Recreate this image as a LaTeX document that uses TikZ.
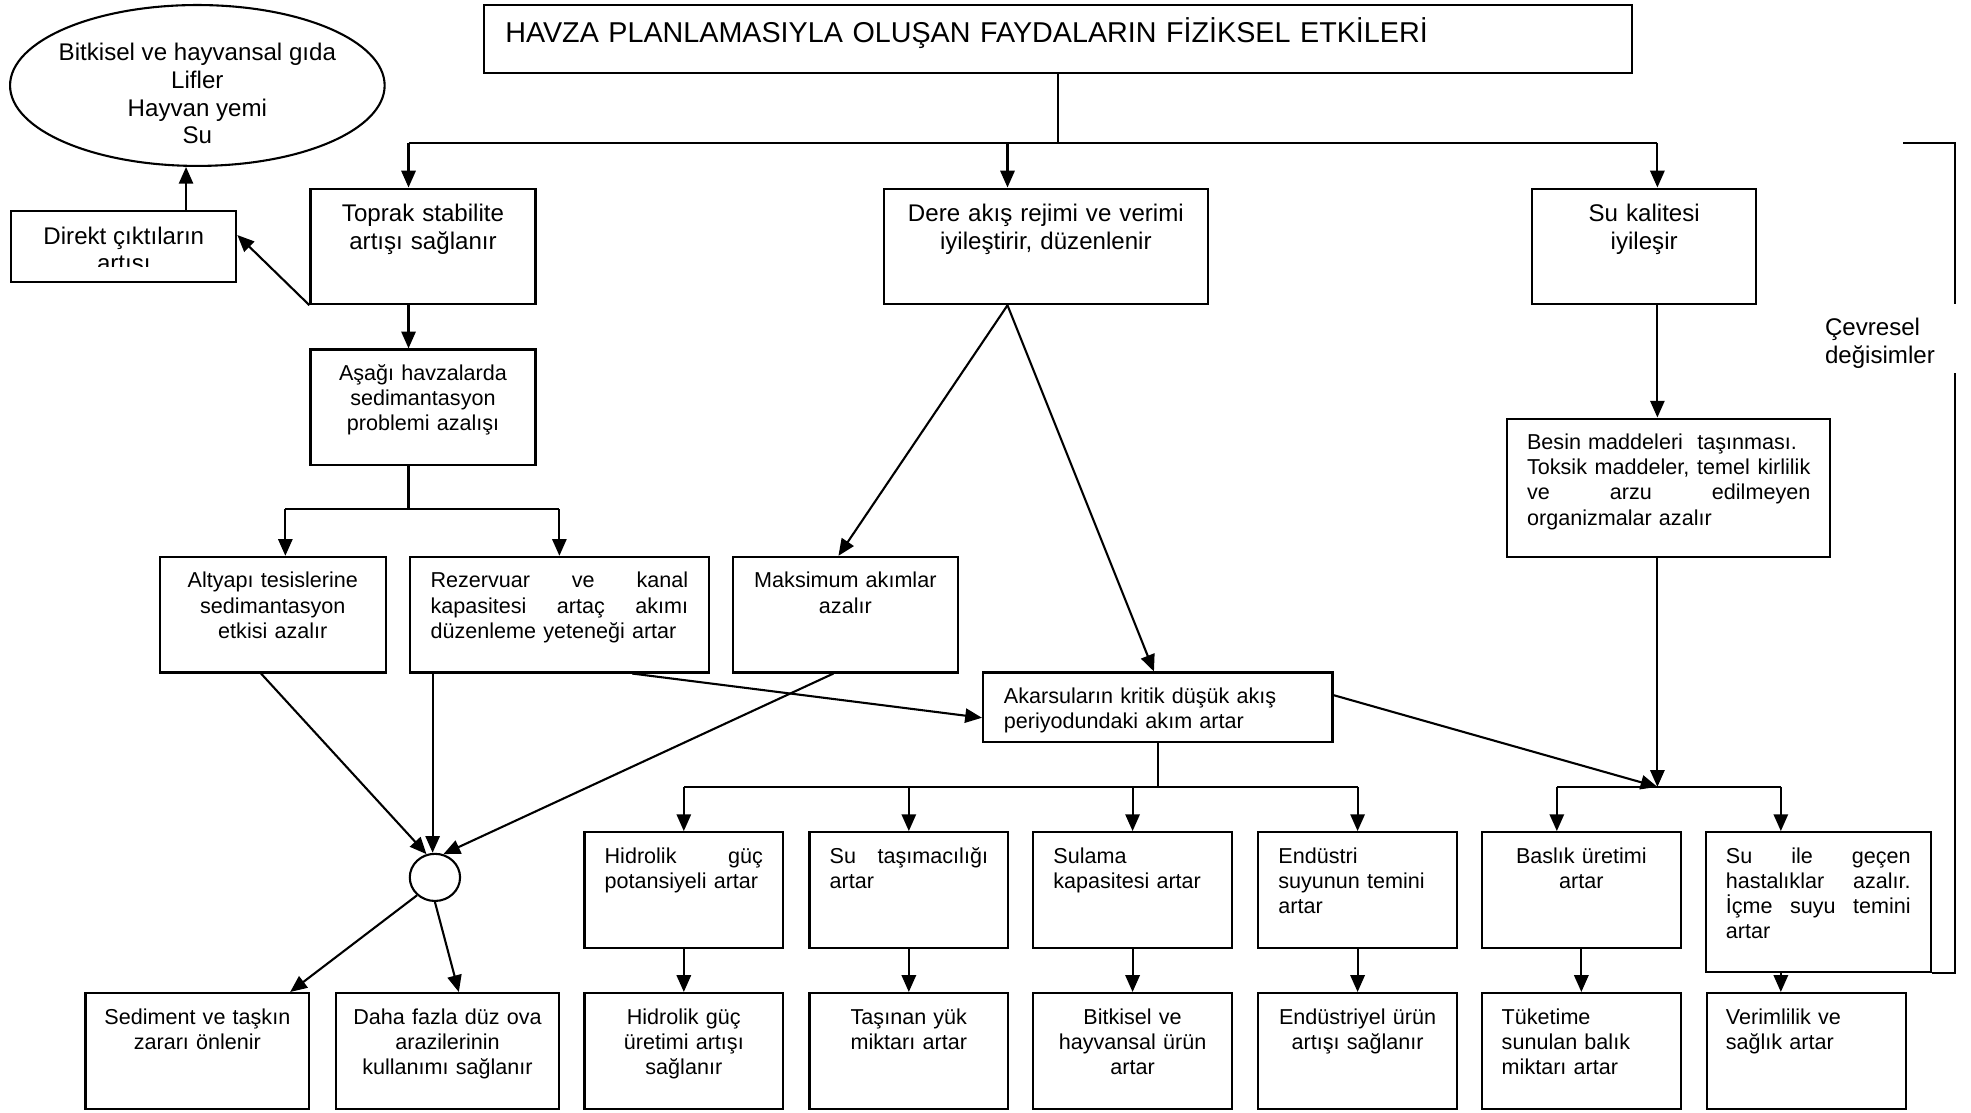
\documentclass[tikz,border=0pt]{standalone}
\usepackage{fontspec}
\setmainfont{Liberation Sans}
\usetikzlibrary{arrows.meta, shapes.geometric}

\tikzset{
    box/.style={draw, inner xsep=7pt, inner ysep=0pt, font=\fontsize{10.3}{12}\selectfont},
    big/.style={font=\fontsize{11.5}{13.2}\selectfont},
    tall/.style={text height=14.8pt, text depth=40.4pt},
    tallbig/.style={text height=15.8pt, text depth=39.4pt},
}

\begin{document}
\begin{tikzpicture}[>={Triangle[length=8pt,width=6.8pt]}, line width=1pt, x=.6pt, y=-.6pt]
    \useasboundingbox (0,0) rectangle (1568,885);

    % title and first level
    \node (title) [box, inner xsep=10.2pt, text width=527.4pt, text height=18pt, text depth=14.4pt, align=left, font=\fontsize{13.7}{16}\selectfont] at (841.5,31) {HAVZA PLANLAMASIYLA OLUŞAN FAYDALARIN FİZİKSEL ETKİLERİ};
    \node (urun) [draw, ellipse, minimum width=178.8pt, minimum height=76.8pt] at (157,68) {};
    \node (urun-t) [big, align=center, inner sep=0pt] at ([yshift=-3.9pt]urun.center) {Bitkisel ve hayvansal gıda\\Lifler\\Hayvan yemi\\Su};
    \node (direkt) [draw, minimum width=107.4pt, minimum height=33.6pt] at (98.5,196) {};
    \begin{scope}
        \clip (direkt.north west) rectangle ([yshift=7.6pt]direkt.south east);
        \node (direkt-t) [big, align=center, anchor=north, inner sep=0pt] at ([yshift=-7.4pt]direkt.north) {Direkt çıktıların\\artısı};
    \end{scope}
    \node (toprak) [box, big, tallbig, text width=93.4pt, align=center] at (336.5,196) {Toprak stabilite\\artışı sağlanır};
    \node (dere) [box, big, tallbig, text width=140.8pt, align=center] at (832,196) {Dere akış rejimi ve verimi\\iyileştirir, düzenlenir};
    \node (sukalite) [box, big, tallbig, text width=92.8pt, align=center] at (1308,196) {Su kalitesi\\iyileşir};
    \node (cevre) [big, align=left, anchor=west, inner sep=0pt] at (1451,273) {Çevresel\\değisimler};

    % second level
    \node (asagi) [box, tall, text width=93.4pt, align=center] at (336.5,324) {Aşağı havzalarda\\sedimantasyon\\problemi azalışı};
    \node (altyapi) [box, tall, text width=94pt, align=center] at (217,489) {Altyapı tesislerine\\sedimantasyon\\etkisi azalır};
    \node (rezervuar) [box, tall, inner xsep=9.9pt, text width=123pt, align=left] at (445,489) {Rezervuar \hfill ve \hfill kanal\\kapasitesi \hfill artaç \hfill akımı\\düzenleme yeteneği artar};
    \node (maksimum) [box, tall, text width=93.4pt, align=center] at (672.5,489) {Maksimum akımlar\\azalır};
    \node (besin) [box, tall, text depth=51.2pt, inner xsep=9.5pt, text width=135.2pt, align=left] at (1327.5,388) {Besin maddeleri\ \ taşınması.\\Toksik \hfill maddeler, \hfill temel \hfill kirlilik\\ve \hfill arzu \hfill edilmeyen\\organizmalar azalır};
    \node (akarsu) [box, tall, text depth=18.2pt, inner xsep=10pt, text width=146.8pt, align=left] at (921,562.5) {Akarsuların kritik düşük akış\\periyodundaki akım artar};
    \node (birlesim) [draw, ellipse, minimum width=24pt, minimum height=22.5pt, inner sep=0pt] at (346,698) {};

    % third level
    \node (hidrolik) [box, tall, inner xsep=9.6pt, text width=75.6pt, align=left] at (544,708) {Hidrolik \hfill güç\\potansiyeli artar};
    \node (tasima) [box, tall, inner xsep=9.6pt, text width=75.6pt, align=left] at (723,708) {Su \hfill taşımacılığı\\artar};
    \node (sulama) [box, tall, inner xsep=9.6pt, text width=75.6pt, align=left] at (901,708) {Sulama\\kapasitesi artar};
    \node (endustri) [box, tall, inner xsep=9.6pt, text width=75.6pt, align=left] at (1080,708) {Endüstri\\suyunun temini\\artar};
    \node (balik) [box, tall, text width=80.8pt, align=center] at (1258,708) {Baslık üretimi\\artar};
    \node (hastalik) [box, tall, text depth=51.8pt, inner xsep=9.6pt, text width=88.2pt, align=left] at (1446.5,717.5) {Su \hfill ile \hfill geçen\\hastalıklar \hfill azalır.\\İçme \hfill suyu \hfill temini\\artar};

    % bottom row
    \node (sediment) [box, tall, text width=92.8pt, align=center] at (157,836) {Sediment ve taşkın\\zararı önlenir};
    \node (daha) [box, tall, text width=92.8pt, align=center] at (356,836) {Daha fazla düz ova\\arazilerinin\\kullanımı sağlanır};
    \node (guc) [box, tall, text width=80.8pt, align=center] at (544,836) {Hidrolik güç\\üretimi artışı\\sağlanır};
    \node (yuk) [box, tall, text width=80.8pt, align=center] at (723,836) {Taşınan yük\\miktarı artar};
    \node (bitkisel) [box, tall, text width=80.8pt, align=center] at (901,836) {Bitkisel ve\\hayvansal ürün\\artar};
    \node (enduurun) [box, tall, text width=80.8pt, align=center] at (1080,836) {Endüstriyel ürün\\artışı sağlanır};
    \node (tuketim) [box, tall, inner xsep=9.4pt, text width=76pt, align=left] at (1258,836) {Tüketime\\sunulan balık\\miktarı artar};
    \node (verim) [box, tall, inner xsep=9pt, text width=76.8pt, align=left] at (1437,836) {Verimlilik ve\\sağlık artar};

    % connectors
    \coordinate (bus1) at (842,113.5);
    \coordinate (bus1-l) at (325,113.5);
    \coordinate (bus1-m) at (801.5,113.5);
    \coordinate (bus1-r) at (1318.5,113.5);
    \draw (title.south -| bus1) -- (bus1);
    \draw (bus1-l) -- (bus1-r);
    \draw[->] (bus1-l) -- (bus1-l |- toprak.north);
    \draw[->] (bus1-m) -- (bus1-m |- dere.north);
    \draw[->] (bus1-r) -- (bus1-r |- sukalite.north);

    \coordinate (direkt-up) at ([xshift=29.7pt]direkt.north);
    \draw[->] (toprak.south west) -- ([yshift=5.4pt]direkt.east);
    \draw[->] (direkt-up) -- (direkt-up |- urun.south);

    \coordinate (bus2) at (325,405);
    \coordinate (bus2-l) at (227,405);
    \coordinate (bus2-r) at (445,405);
    \draw[->] (bus1-l |- toprak.south) -- (bus1-l |- asagi.north);
    \draw (bus1-l |- asagi.south) -- (bus2);
    \draw (bus2-l) -- (bus2-r);
    \draw[->] (bus2-l) -- (bus2-l |- altyapi.north);
    \draw[->] (bus2-r) -- (rezervuar);

    \draw[->] (bus1-m |- dere.south) -- ([xshift=-3.3pt]maksimum.north);
    \draw[->] (bus1-m |- dere.south) -- ([xshift=-1.8pt]akarsu.north);
    \draw[->] ([xshift=34.8pt]rezervuar.south) -- ([yshift=-5.1pt]akarsu.west);

    \coordinate (rez-v) at ([xshift=11.4pt]rezervuar.south west);
    \draw[->] ([xshift=-5.6pt]altyapi.south) -- (birlesim.110);
    \draw[->] (rez-v) -- (rez-v |- birlesim.north);
    \draw[->] ([xshift=-5.7pt]maksimum.south) -- (birlesim.70);
    \draw[->] (birlesim.225) -- ([xshift=-9.6pt]sediment.north east);
    \draw[->] (birlesim.south) -- ([xshift=5.4pt]daha.north);

    \coordinate (bus3) at (921,626);
    \draw (akarsu) -- (bus3);
    \draw (hidrolik |- bus3) -- (endustri |- bus3);
    \draw[->] (hidrolik |- bus3) -- (hidrolik);
    \draw[->] (tasima |- bus3) -- (tasima);
    \draw[->] (sulama |- bus3) -- (sulama);
    \draw[->] (endustri |- bus3) -- (endustri);
    \draw[->] (hidrolik) -- (guc);
    \draw[->] (tasima) -- (yuk);
    \draw[->] (sulama) -- (bitkisel);
    \draw[->] (endustri) -- (enduurun);
    \draw[->] (balik) -- (tuketim);

    \coordinate (bus4) at (1318.5,626);
    \coordinate (bus4-l) at (1238.5,626);
    \coordinate (bus4-r) at (1416.7,626);
    \draw[->] (bus1-r |- sukalite.south) -- (bus1-r |- besin.north);
    \draw[->] (bus1-r |- besin.south) -- (bus4);
    \draw[->] ([yshift=5.7pt]akarsu.east) -- (bus4);
    \draw (bus4-l) -- (bus4-r);
    \draw[->] (bus4-l) -- (bus4-l |- balik.north);
    \draw[->] (bus4-r) -- (bus4-r |- hastalik.north);
    \draw[->] (bus4-r |- hastalik.south) -- (bus4-r |- verim.north);

    % bracket
    \coordinate (cev-a) at (1514,113.5);
    \coordinate (cev-b) at (1555,242);
    \coordinate (cev-c) at (1555,297);
    \draw (cev-a) -| (cev-b);
    \draw (cev-c) |- (hastalik.south east);

\end{tikzpicture}
\end{document}
